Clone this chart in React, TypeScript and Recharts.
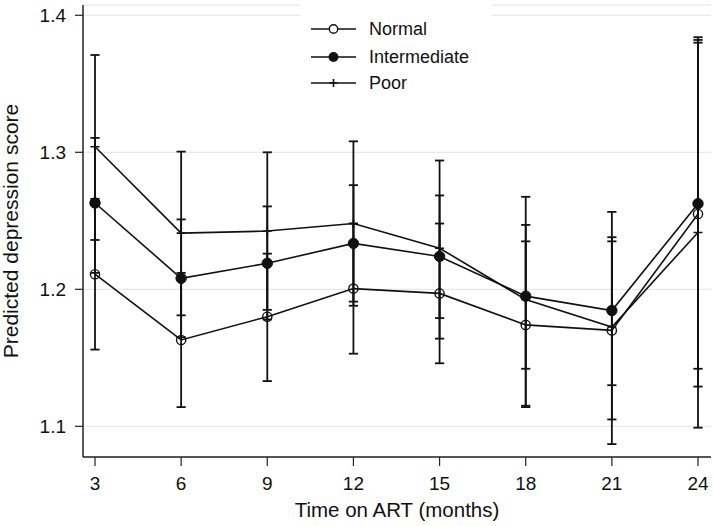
import React from 'react';
import { ComposedChart, Line, XAxis, YAxis, CartesianGrid, ErrorBar, Legend } from 'recharts';

const months = [3, 6, 9, 12, 15, 18, 21, 24];
const seriesNames = ['Normal', 'Intermediate', 'Poor'];
const yTicks = [1.1, 1.2, 1.3, 1.4];

const normal = [1.211, 1.163, 1.180, 1.2005, 1.197, 1.174, 1.170, 1.255];
const normalLo = [1.156, 1.114, 1.133, 1.153, 1.146, 1.114, 1.105, 1.129];
const normalHi = [1.266, 1.212, 1.226, 1.248, 1.248, 1.235, 1.235, 1.382];

const intermediate = [1.263, 1.208, 1.219, 1.2335, 1.224, 1.195, 1.1845, 1.2625];
const intermediateLo = [1.212, 1.165, 1.178, 1.191, 1.179, 1.142, 1.130, 1.142];
const intermediateHi = [1.3105, 1.251, 1.2605, 1.276, 1.2685, 1.247, 1.238, 1.384];

const poor = [1.304, 1.241, 1.2425, 1.248, 1.230, 1.1925, 1.1725, 1.2415];
const poorLo = [1.236, 1.181, 1.185, 1.188, 1.164, 1.115, 1.087, 1.099];
const poorHi = [1.371, 1.3005, 1.300, 1.308, 1.294, 1.2675, 1.2565, 1.380];

const data = months.map((m, i) => ({
  month: m,
  normal: normal[i],
  normalErr: [normal[i] - normalLo[i], normalHi[i] - normal[i]],
  intermediate: intermediate[i],
  intermediateErr: [intermediate[i] - intermediateLo[i], intermediateHi[i] - intermediate[i]],
  poor: poor[i],
  poorErr: [poor[i] - poorLo[i], poorHi[i] - poor[i]],
}));

const FONT = '"Liberation Sans", Arial, Helvetica, sans-serif';
const INK = '#111';

const OpenDot = (props: any) => {
  const { cx, cy, index } = props;
  if (cx == null || cy == null) return <g key={index} />;
  return <circle key={index} cx={cx} cy={cy} r={4.6} fill="none" stroke={INK} strokeWidth={1.4} />;
};
const FilledDot = (props: any) => {
  const { cx, cy, index } = props;
  if (cx == null || cy == null) return <g key={index} />;
  return <circle key={index} cx={cx} cy={cy} r={5.2} fill={INK} stroke={INK} strokeWidth={1} />;
};
const PlusDot = (props: any) => {
  const { cx, cy, index } = props;
  if (cx == null || cy == null) return <g key={index} />;
  return (
    <path
      key={index}
      d={`M${cx - 4.5},${cy}H${cx + 4.5}M${cx},${cy - 4.5}V${cy + 4.5}`}
      stroke={INK}
      strokeWidth={1.6}
      fill="none"
    />
  );
};

const legendIcon = (kind: number) => {
  const line = <line x1={0} y1={8} x2={45} y2={8} stroke={INK} strokeWidth={1.6} />;
  let marker: React.ReactNode = null;
  if (kind === 0) marker = <circle cx={22.5} cy={8} r={4.2} fill="#fff" stroke={INK} strokeWidth={1.4} />;
  if (kind === 1) marker = <circle cx={22.5} cy={8} r={5} fill={INK} />;
  if (kind === 2) marker = <path d="M18.5,8H26.5M22.5,4V12" stroke={INK} strokeWidth={1.6} />;
  return (
    <svg width={45} height={16} style={{ position: 'absolute', left: 11, top: -8 }}>
      {line}
      {marker}
    </svg>
  );
};

const renderLegend = () => (
  <div style={{ position: 'relative', width: 192, height: 100, background: '#fff', fontFamily: FONT }}>
    {seriesNames.map((name, i) => (
      <div key={name} style={{ position: 'absolute', left: 0, top: [29, 56.5, 83][i], width: 192 }}>
        {legendIcon(i)}
        <span
          style={{
            position: 'absolute',
            left: 69,
            top: -11,
            fontSize: 18,
            lineHeight: '22px',
            color: '#111',
            whiteSpace: 'nowrap',
          }}
        >
          {name}
        </span>
      </div>
    ))}
  </div>
);

export default function App() {
  return (
    <div style={{ position: 'absolute', left: 0, top: 0, width: 714, height: 526, background: '#fff' }}>
      <ComposedChart
        width={714}
        height={526}
        data={data}
        margin={{ top: 5, right: 3, bottom: 0, left: 0 }}
        style={{ fontFamily: FONT }}
      >
        <CartesianGrid vertical={false} stroke="#e3e3e3" strokeWidth={1} />
        <XAxis
          dataKey="month"
          type="number"
          domain={[3, 24]}
          ticks={months}
          padding={{ left: 12, right: 13 }}
          height={69}
          tickSize={9}
          tickMargin={11}
          axisLine={{ stroke: '#222', strokeWidth: 1.5 }}
          tickLine={{ stroke: '#222', strokeWidth: 1.2 }}
          tick={{ fill: '#111', fontSize: 19, fontFamily: FONT }}
          label={{ value: 'Time on ART (months)', position: 'insideBottom', offset: 9, fill: '#111', fontSize: 20.5, fontFamily: FONT }}
        />
        <YAxis
          type="number"
          domain={[1.0776, 1.4075]}
          allowDataOverflow
          ticks={yTicks}
          tickFormatter={(v: number) => v.toFixed(1)}
          width={83}
          tickSize={8}
          tickMargin={9}
          axisLine={{ stroke: '#222', strokeWidth: 1.5 }}
          tickLine={{ stroke: '#222', strokeWidth: 1.2 }}
          tick={{ fill: '#111', fontSize: 19, fontFamily: FONT }}
          label={{
            value: 'Predicted depression score',
            angle: -90,
            position: 'insideLeft',
            offset: 11,
            fill: '#111',
            fontSize: 21,
            fontFamily: FONT,
            style: { textAnchor: 'middle' },
          }}
        />
        <Legend
          layout="vertical"
          align="center"
          verticalAlign="middle"
          content={renderLegend}
          wrapperStyle={{ left: 300, top: 0, width: 192, height: 100 }}
        />
        <Line
          dataKey="normal"
          name="Normal"
          stroke={INK}
          strokeWidth={1.6}
          dot={OpenDot}
          activeDot={false}
          isAnimationActive={false}
        >
          <ErrorBar dataKey="normalErr" direction="y" width={4.6} stroke={INK} strokeWidth={1.8} isAnimationActive={false} />
        </Line>
        <Line
          dataKey="intermediate"
          name="Intermediate"
          stroke={INK}
          strokeWidth={1.6}
          dot={FilledDot}
          activeDot={false}
          isAnimationActive={false}
        >
          <ErrorBar dataKey="intermediateErr" direction="y" width={4.6} stroke={INK} strokeWidth={1.8} isAnimationActive={false} />
        </Line>
        <Line
          dataKey="poor"
          name="Poor"
          stroke={INK}
          strokeWidth={1.6}
          dot={PlusDot}
          activeDot={false}
          isAnimationActive={false}
        >
          <ErrorBar dataKey="poorErr" direction="y" width={4.6} stroke={INK} strokeWidth={1.8} isAnimationActive={false} />
        </Line>
      </ComposedChart>
    </div>
  );
}
